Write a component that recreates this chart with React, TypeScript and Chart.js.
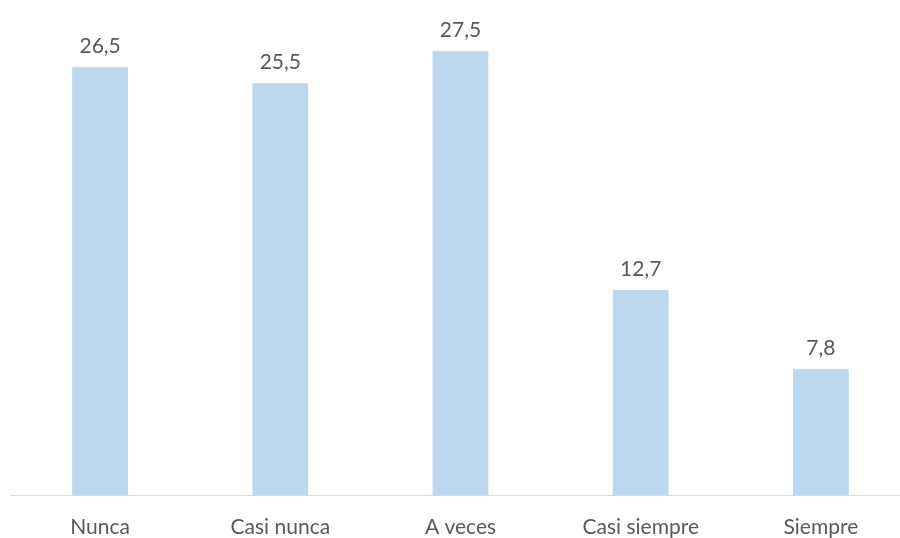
import React, { useEffect, useRef } from "react";
import { Chart, registerables } from "chart.js";

Chart.register(...registerables);

const categories = ["Nunca", "Casi nunca", "A veces", "Casi siempre", "Siempre"];
const values = [26.5, 25.5, 27.5, 12.7, 7.8];
const valueLabels = ["26,5", "25,5", "27,5", "12,7", "7,8"];

const FONT = "Lato, 'Open Sans', sans-serif";

const valueLabelPlugin = {
  id: "valueLabels",
  afterDatasetsDraw(chart: any) {
    const ctx = chart.ctx;
    const meta = chart.getDatasetMeta(0);
    ctx.save();
    ctx.font = `21px ${FONT}`;
    ctx.fillStyle = "#595959";
    ctx.textAlign = "center";
    ctx.textBaseline = "alphabetic";
    meta.data.forEach((bar: any, i: number) => {
      ctx.fillText(valueLabels[i], bar.x, bar.y - 14);
    });
    ctx.restore();
  },
};

export default function App() {
  const ref = useRef<HTMLCanvasElement>(null);
  useEffect(() => {
    if (!ref.current) return;
    const chart = new Chart(ref.current, {
      type: "bar",
      data: {
        labels: categories,
        datasets: [
          {
            data: values,
            backgroundColor: "#BDD7EE",
            borderWidth: 0,
            categoryPercentage: 1,
            barPercentage: 0.31,
          },
        ],
      },
      options: {
        animation: false,
        responsive: false,
        maintainAspectRatio: false,
        layout: { padding: { top: 10.5, left: 10, right: 0, bottom: 0 } },
        plugins: { legend: { display: false }, tooltip: { enabled: false } },
        scales: {
          y: { display: false, min: 0, max: 30 },
          x: {
            grid: { display: false },
            border: { display: true, color: "#D9D9D9", width: 1 },
            ticks: {
              color: "#595959",
              font: { family: FONT, size: 21 },
              padding: 12,
              maxRotation: 0,
            },
            afterFit: (s: any) => {
              s.height = 43;
            },
          },
        },
      },
      plugins: [valueLabelPlugin],
    });
    return () => chart.destroy();
  }, []);
  return (
    <div style={{ position: "fixed", left: 0, top: 0, width: 900, height: 538, overflow: "hidden", background: "#fff" }}>
      <canvas ref={ref} width={911} height={538} style={{ display: "block" }} />
    </div>
  );
}
